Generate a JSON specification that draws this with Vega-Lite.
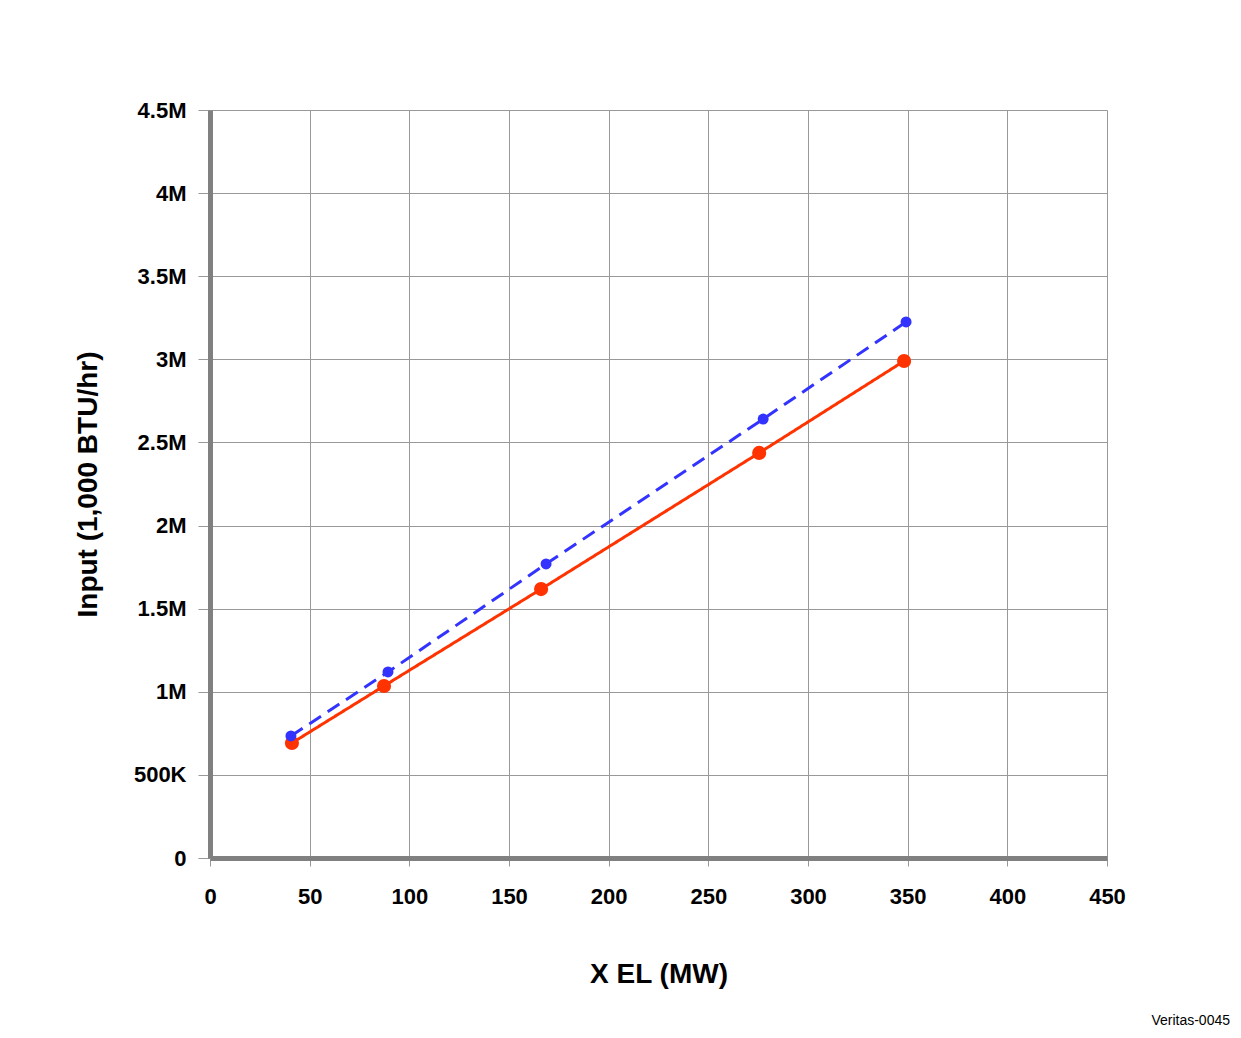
{
  "$schema": "https://vega.github.io/schema/vega-lite/v6.json",
  "autosize": "none",
  "width": 897,
  "height": 748,
  "padding": {"left": 210, "top": 110, "right": 134, "bottom": 180},
  "background": "white",
  "config": {
    "font": "Liberation Sans",
    "view": {"stroke": null}
  },
  "title": {
    "text": "Veritas-0045",
    "orient": "bottom",
    "anchor": "end",
    "frame": "group",
    "dx": 123,
    "offset": 26,
    "fontSize": 14,
    "fontWeight": "normal",
    "color": "#000000",
    "font": "Liberation Sans"
  },
  "data": {
    "values": [
      {"series": "Actual", "mw": 41.1, "input": 692000},
      {"series": "Actual", "mw": 87.3, "input": 1035000},
      {"series": "Actual", "mw": 166.1, "input": 1618000},
      {"series": "Actual", "mw": 275.5, "input": 2437000},
      {"series": "Actual", "mw": 348.2, "input": 2990000},
      {"series": "Design", "mw": 40.6, "input": 734000},
      {"series": "Design", "mw": 89.3, "input": 1119000},
      {"series": "Design", "mw": 168.6, "input": 1769000},
      {"series": "Design", "mw": 277.5, "input": 2641000},
      {"series": "Design", "mw": 349.2, "input": 3225000}
    ]
  },
  "encoding": {
    "x": {
      "field": "mw",
      "type": "quantitative",
      "scale": {"domain": [0, 450], "nice": false},
      "axis": {
        "title": "X EL (MW)",
        "values": [0, 50, 100, 150, 200, 250, 300, 350, 400, 450],
        "grid": true,
        "gridColor": "#999999",
        "gridWidth": 1,
        "gridOpacity": 1,
        "domainColor": "#808080",
        "domainWidth": 5,
        "tickColor": "#999999",
        "tickSize": 8,
        "labelFontSize": 22,
        "labelFontWeight": "bold",
        "labelColor": "#000000",
        "labelPadding": 20,
        "labelFlush": false,
        "titleFontSize": 28,
        "titleFontWeight": "bold",
        "titleColor": "#000000",
        "titlePadding": 53
      }
    },
    "y": {
      "field": "input",
      "type": "quantitative",
      "scale": {"domain": [0, 4500000], "nice": false},
      "axis": {
        "title": "Input (1,000 BTU/hr)",
        "values": [0, 500000, 1000000, 1500000, 2000000, 2500000, 3000000, 3500000, 4000000, 4500000],
        "labelExpr": "replace(format(datum.value, '~s'), 'k', 'K')",
        "grid": true,
        "gridColor": "#999999",
        "gridWidth": 1,
        "gridOpacity": 1,
        "domainColor": "#808080",
        "domainWidth": 5,
        "tickColor": "#999999",
        "tickSize": 12,
        "labelFontSize": 22,
        "labelFontWeight": "bold",
        "labelColor": "#000000",
        "labelPadding": 12,
        "labelFlush": false,
        "titleFontSize": 28,
        "titleFontWeight": "bold",
        "titleColor": "#000000",
        "titlePadding": 31
      }
    },
    "color": {
      "field": "series",
      "type": "nominal",
      "scale": {"domain": ["Actual", "Design"], "range": ["#ff3300", "#3333ff"]},
      "legend": null
    }
  },
  "layer": [
    {
      "mark": {"type": "line", "strokeWidth": 3},
      "encoding": {
        "strokeDash": {
          "field": "series",
          "type": "nominal",
          "scale": {"domain": ["Actual", "Design"], "range": [[1, 0], [14, 8]]},
          "legend": null
        }
      }
    },
    {
      "mark": {"type": "circle", "opacity": 1},
      "encoding": {
        "size": {
          "field": "series",
          "type": "nominal",
          "scale": {"domain": ["Actual", "Design"], "range": [200, 120]},
          "legend": null
        }
      }
    }
  ]
}
